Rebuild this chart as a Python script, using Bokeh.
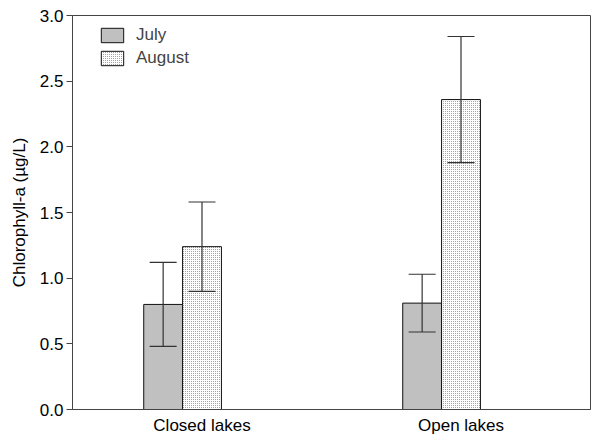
from bokeh.plotting import figure
from bokeh.models import ColumnDataSource, Range1d, FixedTicker, NumeralTickFormatter, Whisker, TeeHead, Legend, LegendItem
from bokeh.embed import file_html
from bokeh.resources import INLINE

categories = ["Closed lakes", "Open lakes"]
july = [0.80, 0.81]
july_err = [0.32, 0.22]
august = [1.24, 2.36]
august_err = [0.34, 0.48]
y_ticks = [0.0, 0.5, 1.0, 1.5, 2.0, 2.5, 3.0]

FONT = "Liberation Sans"
FS = "17px"
pos = [1, 2]
bw = 0.15

p = figure(width=592, height=437, output_backend="svg", toolbar_location=None,
           x_range=Range1d(0.5, 2.5), y_range=Range1d(0, 3),
           min_border_left=72, min_border_right=2, min_border_top=15, min_border_bottom=27)
p.grid.visible = False
p.outline_line_color = "#444444"
p.outline_line_width = 1
p.background_fill_color = "white"
p.border_fill_color = "white"

src_j = ColumnDataSource(dict(x=[c - bw for c in pos], top=july,
                              up=[v + e for v, e in zip(july, july_err)],
                              lo=[v - e for v, e in zip(july, july_err)]))
src_a = ColumnDataSource(dict(x=pos, top=august,
                              up=[v + e for v, e in zip(august, august_err)],
                              lo=[v - e for v, e in zip(august, august_err)]))

rj = p.vbar(x="x", top="top", width=bw, bottom=0, source=src_j,
            fill_color="#c0c0c0", line_color="#111111", line_width=1)
ra = p.vbar(x="x", top="top", width=bw, bottom=0, source=src_a,
            fill_color="white", line_color="#111111", line_width=1,
            hatch_pattern="dot", hatch_scale=2, hatch_color="#888888", hatch_weight=1)

for src in (src_j, src_a):
    w = Whisker(base="x", upper="up", lower="lo", source=src, level="overlay",
                line_color="#333333", line_width=1.2,
                upper_head=TeeHead(size=27, line_color="#333333", line_width=1.2),
                lower_head=TeeHead(size=27, line_color="#333333", line_width=1.2))
    p.add_layout(w)

p.yaxis.ticker = FixedTicker(ticks=y_ticks)
p.yaxis.formatter = NumeralTickFormatter(format="0.0")
p.yaxis.minor_tick_line_color = None
p.yaxis.major_tick_in = 0
p.yaxis.major_tick_out = 6
p.yaxis.axis_line_color = "#444444"
p.yaxis.major_tick_line_color = "#444444"
p.yaxis.major_label_text_font = FONT
p.yaxis.major_label_text_font_size = FS
p.yaxis.major_label_text_color = "black"
p.yaxis.major_label_standoff = 3
p.yaxis.axis_label = "Chlorophyll-a (µg/L)"
p.yaxis.axis_label_text_font = FONT
p.yaxis.axis_label_text_font_size = FS
p.yaxis.axis_label_text_font_style = "normal"
p.yaxis.axis_label_text_color = "black"
p.yaxis.axis_label_standoff = 8

p.xaxis.ticker = FixedTicker(ticks=pos)
p.xaxis.major_label_overrides = {1: categories[0], 2: categories[1]}
p.xaxis.minor_tick_line_color = None
p.xaxis.major_tick_line_color = None
p.xaxis.major_tick_in = 0
p.xaxis.major_tick_out = 0
p.xaxis.axis_line_color = "#444444"
p.xaxis.major_label_text_font = FONT
p.xaxis.major_label_text_font_size = FS
p.xaxis.major_label_text_color = "black"
p.xaxis.major_label_standoff = 6

legend = Legend(items=[LegendItem(label="July", renderers=[rj]),
                       LegendItem(label="August", renderers=[ra])],
                location=(26, 341))
legend.margin = 0
legend.padding = 0
legend.spacing = 3
legend.glyph_width = 28
legend.glyph_height = 18
legend.label_standoff = 10
legend.label_text_font = FONT
legend.label_text_font_size = FS
legend.label_text_baseline = "middle"
legend.border_line_alpha = 0
legend.background_fill_alpha = 0
p.add_layout(legend)

open("out.html", "w").write(file_html(p, INLINE))
